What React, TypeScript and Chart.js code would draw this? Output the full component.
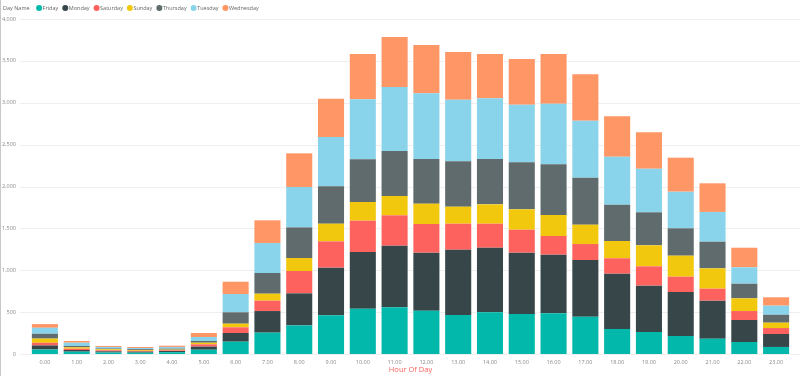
import { useEffect, useRef } from 'react';
import { Chart, registerables } from 'chart.js';

Chart.register(...registerables);

const hours = ['0.00','1.00','2.00','3.00','4.00','5.00','6.00','7.00','8.00','9.00','10.00','11.00','12.00','13.00','14.00','15.00','16.00','17.00','18.00','19.00','20.00','21.00','22.00','23.00'];

const friday = [54,28,18,16,22,51,147,255,342,462,541,557,517,466,498,478,486,446,299,263,215,183,143,84];
const monday = [48,20,14,12,14,37,104,258,382,569,677,736,693,779,771,732,700,676,660,553,525,454,263,155];
const saturday = [32,15,12,10,8,28,68,124,267,314,374,363,342,311,287,274,223,191,184,231,183,143,107,71];
const sunday = [50,17,12,10,8,19,43,83,155,211,223,231,243,203,231,244,251,231,206,251,251,243,152,64];
const thursday = [58,16,10,10,12,20,136,247,366,446,510,537,533,542,541,561,605,561,434,394,327,318,174,95];
const tuesday = [71,39,18,14,20,48,218,358,482,589,716,764,785,736,725,688,724,681,573,521,437,355,196,108];
const wednesday = [44,20,12,12,15,48,147,271,402,458,541,597,577,569,529,545,593,553,482,434,406,342,234,100];

const seriesNames = ['Friday','Monday','Saturday','Sunday','Thursday','Tuesday','Wednesday'];
const seriesData = [friday, monday, saturday, sunday, thursday, tuesday, wednesday];
const seriesColors = ['#01B8AA','#374649','#FD625E','#F2C80F','#5F6B6D','#8AD4EB','#FE9666'];

const legendTitle = 'Day Name';
const axisTitle = 'Hour Of Day';
const FONT = "'Open Sans', 'Noto Sans', sans-serif";

const gridPlugin = {
  id: 'extGrid',
  beforeDatasetsDraw(chart: any) {
    const ctx = chart.ctx;
    const y = chart.scales.y;
    ctx.save();
    ctx.strokeStyle = '#efefef';
    ctx.lineWidth = 1;
    y.ticks.forEach((t: any) => {
      const py = Math.round(y.getPixelForValue(t.value)) + 0.5;
      ctx.beginPath();
      ctx.moveTo(20, py);
      ctx.lineTo(chart.width, py);
      ctx.stroke();
    });
    ctx.restore();
  },
  afterDraw(chart: any) {
    const ctx = chart.ctx;
    ctx.save();
    ctx.strokeStyle = '#c8c8c8';
    ctx.beginPath();
    ctx.moveTo(0.5, 0);
    ctx.lineTo(0.5, chart.height);
    ctx.stroke();
    ctx.font = `5.5px ${FONT}`;
    ctx.textBaseline = 'middle';
    ctx.textAlign = 'left';
    const ly = 8;
    ctx.fillStyle = '#666666';
    ctx.fillText(legendTitle, 3, ly);
    let cx = 3 + ctx.measureText(legendTitle).width + 9.5;
    chart.data.datasets.forEach((ds: any) => {
      ctx.fillStyle = ds.backgroundColor;
      ctx.beginPath();
      ctx.arc(cx, ly, 3, 0, Math.PI * 2);
      ctx.fill();
      ctx.fillStyle = '#666666';
      const tx = cx + 3.5;
      ctx.fillText(ds.label, tx, ly);
      cx = tx + ctx.measureText(ds.label).width + 7;
    });
    ctx.restore();
  },
};

export default function App() {
  const ref = useRef<HTMLCanvasElement>(null);
  useEffect(() => {
    document.body.style.margin = '0';
    const chart = new Chart(ref.current!, {
      type: 'bar',
      data: {
        labels: hours,
        datasets: seriesNames.map((name, i) => ({
          label: name,
          data: seriesData[i],
          backgroundColor: seriesColors[i],
          borderWidth: 0,
          barPercentage: 0.82,
          categoryPercentage: 1,
        })),
      },
      options: {
        animation: false,
        responsive: true,
        maintainAspectRatio: false,
        layout: { padding: { top: 19, right: 8, left: 0, bottom: 2 } },
        plugins: {
          legend: { display: false },
          tooltip: { enabled: false },
        },
        scales: {
          x: {
            stacked: true,
            grid: { display: false, drawTicks: false },
            border: { display: false },
            ticks: { color: '#888888', font: { family: FONT, size: 5.5 }, padding: 5, maxRotation: 0, autoSkip: false },
            title: { display: true, text: axisTitle, color: '#FD625E', font: { family: FONT, size: 7.5 }, padding: 0 },
            afterFit: (s: any) => { s.height = 20; },
          },
          y: {
            stacked: true,
            min: 0,
            max: 4000,
            grid: { display: false, drawTicks: false },
            border: { display: false },
            ticks: {
              stepSize: 500,
              color: '#888888',
              font: { family: FONT, size: 5.5 },
              padding: 13,
              callback: (v: any) => Number(v).toLocaleString('en-US'),
            },
            afterFit: (s: any) => { s.width = 29; },
          },
        },
      },
      plugins: [gridPlugin],
    });
    return () => chart.destroy();
  }, []);
  return (
    <div style={{ position: 'relative', width: 800, height: 376 }}>
      <canvas ref={ref} />
    </div>
  );
}
